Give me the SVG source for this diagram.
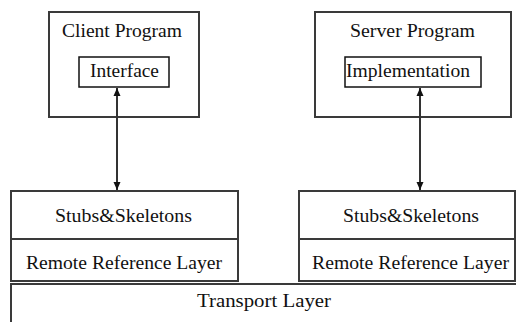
<svg xmlns="http://www.w3.org/2000/svg" width="516" height="322" viewBox="0 0 516 322">
<defs>
<style>
.box{fill:#fff;stroke:#3a3a3a;stroke-width:2}
.inner{fill:#fff;stroke:#111;stroke-width:1.5}
.t{font-family:'Liberation Serif',serif;font-size:18px;fill:#111}
.c{stroke:#333;stroke-width:2;fill:none}
</style>
<marker id="ah" viewBox="0 0 8 12" refX="8" refY="6" markerWidth="8" markerHeight="12" markerUnits="userSpaceOnUse" orient="auto-start-reverse">
<path d="M0,2.5 L8,6 L0,9.5 Z" fill="#111"/>
</marker>
</defs>
<rect width="516" height="322" fill="#fff"/>
<g id="client">
<rect class="box" x="49" y="12" width="150" height="105"/>
<text class="t" x="62" y="37" font-family="Liberation Serif" textLength="120" lengthAdjust="spacingAndGlyphs">Client Program</text>
</g>
<g id="interface">
<rect class="inner" x="79" y="57" width="90" height="30"/>
<text class="t" x="90" y="77" font-family="Liberation Serif" textLength="69" lengthAdjust="spacingAndGlyphs">Interface</text>
</g>
<g id="server">
<rect class="box" x="315" y="12" width="196" height="105"/>
<text class="t" x="350" y="37" font-family="Liberation Serif" textLength="125" lengthAdjust="spacingAndGlyphs">Server Program</text>
</g>
<g id="implementation">
<rect class="inner" x="345" y="57" width="136" height="30"/>
<text class="t" x="346" y="77" font-family="Liberation Serif" textLength="124" lengthAdjust="spacingAndGlyphs">Implementation</text>
</g>
<g id="left-stack">
<rect class="box" x="11" y="191" width="227" height="90"/>
<line class="box" x1="11" y1="239" x2="238" y2="239"/>
<text class="t" x="55" y="222" font-family="Liberation Serif" textLength="137" lengthAdjust="spacingAndGlyphs">Stubs&amp;Skeletons</text>
<text class="t" x="26" y="269" font-family="Liberation Serif" textLength="196" lengthAdjust="spacingAndGlyphs">Remote Reference Layer</text>
</g>
<g id="right-stack">
<rect class="box" x="299" y="191" width="216" height="90"/>
<line class="box" x1="299" y1="239" x2="515" y2="239"/>
<text class="t" x="343" y="222" font-family="Liberation Serif" textLength="136" lengthAdjust="spacingAndGlyphs">Stubs&amp;Skeletons</text>
<text class="t" x="312" y="269" font-family="Liberation Serif" textLength="197" lengthAdjust="spacingAndGlyphs">Remote Reference Layer</text>
</g>
<g id="transport">
<rect class="box" x="11" y="284" width="520" height="50"/>
<text class="t" x="197" y="307" font-family="Liberation Serif" textLength="134" lengthAdjust="spacingAndGlyphs">Transport Layer</text>
</g>
<g id="connectors">
<line class="c" x1="117" y1="88" x2="117" y2="190" marker-start="url(#ah)" marker-end="url(#ah)"/>
<line class="c" x1="420" y1="88" x2="420" y2="190" marker-start="url(#ah)" marker-end="url(#ah)"/>
</g>
</svg>
